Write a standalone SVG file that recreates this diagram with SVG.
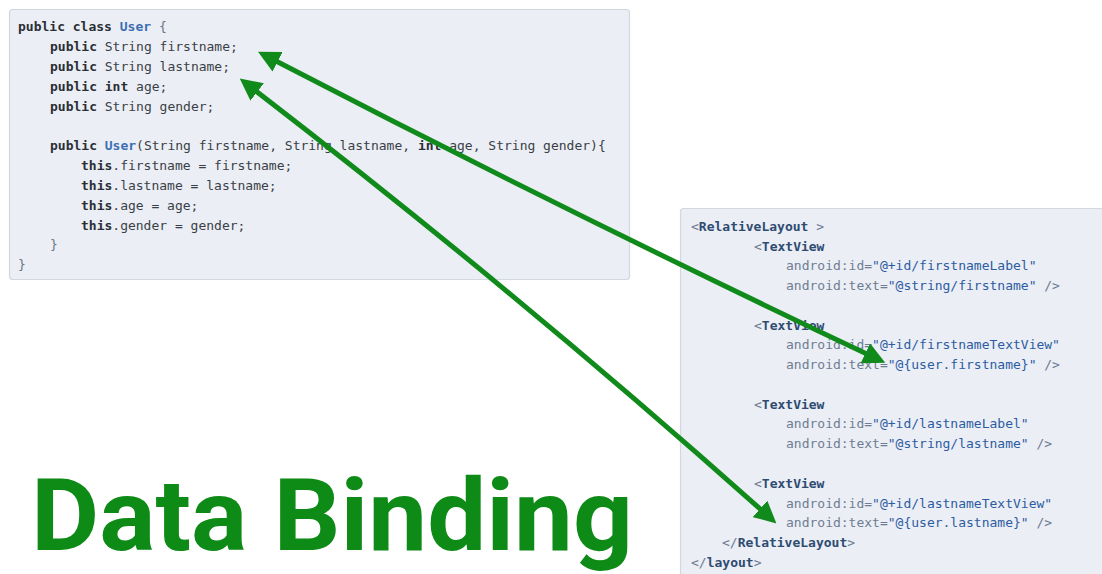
<svg xmlns="http://www.w3.org/2000/svg" width="1102" height="574" viewBox="0 0 1102 574">
<style>
.box{fill:#ebeef4;stroke:#d3d7de;stroke-width:1.2}
.code{font-family:"DejaVu Sans Mono","Liberation Mono",monospace;font-size:13px;fill:#3a3f47}
.kw{font-weight:bold;fill:#2a2e35}
.cls{fill:#3d6eb4;font-weight:bold}
.punc{fill:#6b7486}
.tag{font-weight:bold;fill:#2e4b72}
.br{fill:#6b7a93}
.attr{fill:#6e7d93}
.val{fill:#2d5ca3}
.conn{fill:none;stroke:#118a1c;stroke-width:5}
.title{font-family:Roboto,"Liberation Sans",sans-serif;font-weight:bold;font-size:101px;fill:#0e8a17}
</style>
<defs>
<marker id="ah" markerUnits="userSpaceOnUse" viewBox="0 0 22 22" markerWidth="22" markerHeight="22" refX="4" refY="11" orient="auto-start-reverse">
<path d="M0,0 L22,11 L0,22 z" fill="#118a1c"/>
</marker>
</defs>
<rect width="1102" height="574" fill="#ffffff"/>

<g id="java-class">
<rect class="box" x="9.5" y="9.5" width="620" height="270" rx="3"/>
<text class="code" x="18" y="31"><tspan class="kw">public class</tspan> <tspan class="cls">User</tspan> <tspan class="punc">{</tspan></text>
<text class="code" x="50" y="51"><tspan class="kw">public</tspan> String firstname;</text>
<text class="code" x="50" y="71"><tspan class="kw">public</tspan> String lastname;</text>
<text class="code" x="50" y="91"><tspan class="kw">public int</tspan> age;</text>
<text class="code" x="50" y="111"><tspan class="kw">public</tspan> String gender;</text>
<text class="code" x="50" y="150"><tspan class="kw">public</tspan> <tspan class="cls" font-weight="normal">User</tspan>(String firstname, String lastname, <tspan class="kw">int</tspan> age, String gender){</text>
<text class="code" x="81" y="170"><tspan class="kw">this</tspan>.firstname = firstname;</text>
<text class="code" x="81" y="190"><tspan class="kw">this</tspan>.lastname = lastname;</text>
<text class="code" x="81" y="210"><tspan class="kw">this</tspan>.age = age;</text>
<text class="code" x="81" y="230"><tspan class="kw">this</tspan>.gender = gender;</text>
<text class="code" x="50" y="249"><tspan class="punc">}</tspan></text>
<text class="code" x="18" y="269"><tspan class="punc">}</tspan></text>
</g>

<g id="xml-layout">
<rect class="box" x="680.5" y="208.5" width="430" height="380" rx="3"/>
<text class="code" x="691" y="231"><tspan class="br">&lt;</tspan><tspan class="tag">RelativeLayout</tspan> <tspan class="br">&gt;</tspan></text>
<text class="code" x="754" y="251"><tspan class="br">&lt;</tspan><tspan class="tag">TextView</tspan></text>
<text class="code" x="786" y="270"><tspan class="attr">android:id=</tspan><tspan class="val">"@+id/firstnameLabel"</tspan></text>
<text class="code" x="786" y="290"><tspan class="attr">android:text=</tspan><tspan class="val">"@string/firstname"</tspan> <tspan class="br">/&gt;</tspan></text>
<text class="code" x="754" y="330"><tspan class="br">&lt;</tspan><tspan class="tag">TextView</tspan></text>
<text class="code" x="786" y="349"><tspan class="attr">android:id=</tspan><tspan class="val">"@+id/firstnameTextView"</tspan></text>
<text class="code" x="786" y="369"><tspan class="attr">android:text=</tspan><tspan class="val">"@{user.firstname}"</tspan> <tspan class="br">/&gt;</tspan></text>
<text class="code" x="754" y="409"><tspan class="br">&lt;</tspan><tspan class="tag">TextView</tspan></text>
<text class="code" x="786" y="428"><tspan class="attr">android:id=</tspan><tspan class="val">"@+id/lastnameLabel"</tspan></text>
<text class="code" x="786" y="448"><tspan class="attr">android:text=</tspan><tspan class="val">"@string/lastname"</tspan> <tspan class="br">/&gt;</tspan></text>
<text class="code" x="754" y="488"><tspan class="br">&lt;</tspan><tspan class="tag">TextView</tspan></text>
<text class="code" x="786" y="508"><tspan class="attr">android:id=</tspan><tspan class="val">"@+id/lastnameTextView"</tspan></text>
<text class="code" x="786" y="527"><tspan class="attr">android:text=</tspan><tspan class="val">"@{user.lastname}"</tspan> <tspan class="br">/&gt;</tspan></text>
<text class="code" x="722" y="547"><tspan class="br">&lt;/</tspan><tspan class="tag">RelativeLayout</tspan><tspan class="br">&gt;</tspan></text>
<text class="code" x="691" y="567"><tspan class="br">&lt;/</tspan><tspan class="tag">layout</tspan><tspan class="br">&gt;</tspan></text>
</g>

<g id="title">
<text class="title" x="31" y="550" textLength="602" lengthAdjust="spacingAndGlyphs">Data Binding</text>
</g>

<g id="connectors">
<path class="conn" d="M274,60 Q569,213 869,355" marker-start="url(#ah)" marker-end="url(#ah)"/>
<path class="conn" d="M254,89.5 Q516,291 763,511.5" marker-start="url(#ah)" marker-end="url(#ah)"/>
</g>
</svg>
